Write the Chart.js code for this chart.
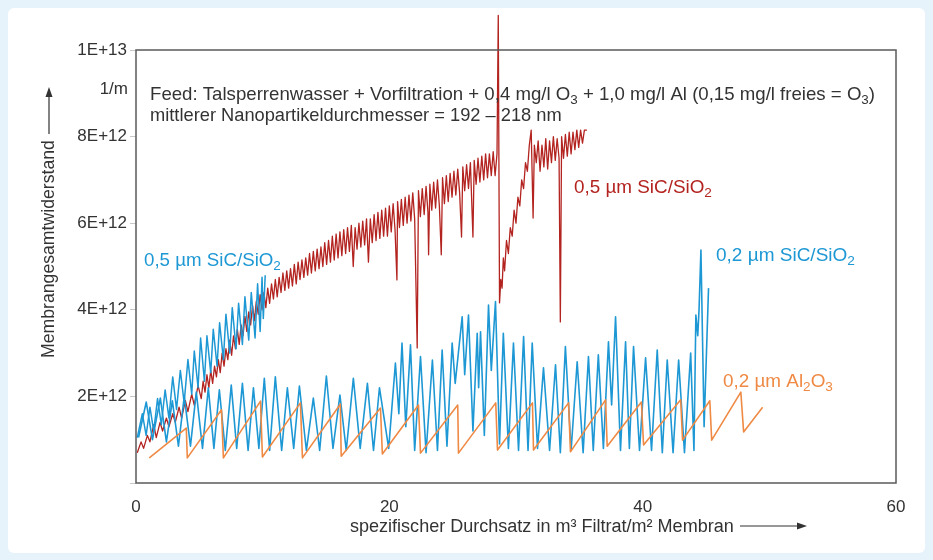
<!DOCTYPE html>
<html>
<head>
<meta charset="utf-8">
<script src="https://cdn.jsdelivr.net/npm/chart.js@4.4.1/dist/chart.umd.min.js"></script>
<style>
  body { margin: 0; background: #e6f3fa; }
  #card { position: absolute; left: 8px; top: 8px; width: 917px; height: 545px; background: #fff; border-radius: 6px; }
  #chart { position: absolute; left: 0; top: 0; }
</style>
</head>
<body>
<div id="card"></div>
<canvas id="chart" width="933" height="560"></canvas>
<script>
// Werte in 1E+12 1/m, x in m3/m2
const yTickLabels = ["", "2E+12", "4E+12", "6E+12", "8E+12", "1E+13"];
const xTickLabels = ["0", "20", "40", "60"];

// 0,5 µm SiC/SiO2 (rot)
const rot05 = [
  [0.1,0.7],[0.4,0.95],[0.6,0.8],[0.9,1.1],[1.1,0.95],[1.4,1.35],[1.6,1.05],[1.9,1.4],[2.1,1.2],[2.4,1.5],
  [2.6,1.3],[2.9,1.6],[3.1,1.4],[3.4,1.75],[3.6,1.5],[3.9,1.9],[4.1,1.65],[4.4,2.05],[4.6,1.8],[4.9,2.25],
  [5.15,1.95],[5.3,2.35],[5.45,2.1],[5.6,2.5],[5.75,2.2],[5.9,2.6],[6.05,2.3],[6.2,2.7],[6.35,2.45],[6.5,2.85],
  [6.65,2.55],[6.8,3.0],[6.95,2.7],[7.1,3.1],[7.25,2.85],[7.4,3.3],[7.55,2.95],[7.7,3.4],[7.85,3.1],[8.0,3.55],
  [8.15,3.2],[8.3,3.65],[8.45,3.4],[8.6,3.85],[8.75,3.5],[8.9,3.95],[9.05,3.65],[9.2,4.1],[9.35,3.75],[9.5,4.2],
  [9.65,3.9],[9.8,4.35],[9.95,4.0],[10.1,4.4],[10.25,4.05],[10.4,4.5],[10.55,4.15],[10.7,4.6],[10.85,4.25],[11.0,4.7],
  [11.15,4.3],[11.3,4.75],[11.45,4.4],[11.6,4.85],[11.75,4.45],[11.9,4.9],[12.05,4.5],[12.2,4.95],[12.35,4.55],[12.5,5.05],
  [12.65,4.6],[12.8,5.1],[12.95,4.7],[13.1,5.15],[13.25,4.75],[13.4,5.2],[13.55,4.8],[13.7,5.3],[13.85,4.85],[14.0,5.35],
  [14.15,4.9],[14.3,5.4],[14.45,4.95],[14.6,5.45],[14.75,5.0],[14.9,5.55],[15.05,5.05],[15.2,5.6],[15.35,5.1],[15.5,5.7],
  [15.65,5.15],[15.8,5.75],[15.95,5.2],[16.1,5.8],[16.25,5.25],[16.4,5.85],[16.55,5.3],[16.7,5.9],[16.85,5.35],[17.0,5.95],
  [17.15,5.0],[17.3,5.9],[17.45,5.4],[17.6,6.0],[17.75,5.45],[17.9,6.05],[18.05,5.5],[18.2,6.1],[18.35,5.1],[18.5,6.1],
  [18.65,5.55],[18.8,6.2],[18.95,5.6],[19.1,6.25],[19.25,5.65],[19.4,6.3],[19.55,5.7],[19.7,6.35],[19.85,5.7],[20.0,6.4],
  [20.15,5.8],[20.3,6.45],[20.45,5.85],[20.6,4.69],[20.65,6.5],[20.8,5.9],[20.95,6.55],[21.1,5.95],[21.25,6.6],[21.4,6.0],
  [21.55,6.65],[21.7,6.05],[21.85,6.7],[22.0,6.1],[22.2,3.12],[22.3,6.75],[22.45,6.15],[22.6,6.8],[22.75,6.2],[22.9,6.85],
  [23.05,6.25],[23.1,5.27],[23.2,6.9],[23.35,6.3],[23.5,6.95],[23.65,6.35],[23.8,7.0],[23.95,6.4],[24.1,5.27],[24.2,7.05],
  [24.35,6.45],[24.5,7.1],[24.65,6.5],[24.8,7.15],[24.95,6.6],[25.1,7.2],[25.25,6.65],[25.4,7.25],[25.55,6.7],[25.7,5.68],
  [25.8,7.3],[25.95,6.75],[26.1,7.35],[26.25,6.8],[26.4,7.4],[26.6,5.68],[26.7,7.45],[26.85,6.9],[27.0,7.5],[27.15,6.95],
  [27.3,7.55],[27.45,7.0],[27.6,7.6],[27.75,7.05],[27.9,7.6],[28.05,7.1],[28.2,7.65],[28.35,7.1],[28.5,7.6],[28.6,10.8],
  [28.7,4.16],[28.8,4.7],[28.9,4.5],[29.0,5.2],[29.1,4.9],[29.25,5.6],[29.4,5.3],[29.55,5.9],[29.7,5.7],[29.85,6.3],
  [30.0,6.0],[30.15,6.6],[30.3,6.4],[30.45,7.0],[30.6,6.8],[30.75,7.4],[30.9,7.2],[31.05,7.8],[31.2,8.15],[31.35,6.12],
  [31.45,7.8],[31.6,7.4],[31.75,7.9],[31.9,7.2],[32.05,7.8],[32.2,7.3],[32.35,7.95],[32.5,7.25],[32.65,7.9],[32.8,7.4],
  [32.95,8.0],[33.1,7.45],[33.25,7.95],[33.4,7.5],[33.5,3.72],[33.6,8.0],[33.75,7.5],[33.9,8.05],[34.05,7.55],[34.2,8.1],
  [34.35,7.6],[34.5,8.1],[34.65,7.7],[34.8,8.15],[34.95,7.75],[35.1,8.15],[35.25,7.85],[35.4,8.15],[35.6,8.15]
];

// 0,5 µm SiC/SiO2 (blau, steigend)
const blau05 = [
  [0.1,1.05],[0.5,1.6],[0.8,1.1],[1.1,1.75],[1.4,1.2],[1.7,1.95],[2.0,1.35],[2.3,2.15],[2.6,1.5],[2.9,2.45],
  [3.2,1.7],[3.5,2.6],[3.8,1.85],[4.1,2.85],[4.4,2.05],[4.6,3.05],[4.9,2.2],[5.1,3.35],[5.4,2.35],[5.6,3.4],
  [5.9,2.55],[6.1,3.55],[6.4,2.7],[6.6,3.7],[6.9,2.85],[7.1,3.9],[7.4,3.0],[7.6,4.05],[7.9,3.1],[8.1,4.15],
  [8.4,3.2],[8.6,4.3],[8.9,3.3],[9.1,4.4],[9.4,3.35],[9.6,4.6],[9.8,3.5],[9.95,4.75],[10.05,3.8],[10.2,4.8]
];

// 0,2 µm SiC/SiO2 (blau)
const blau02 = [
  [0.2,1.05],[0.81,1.87],[1.3,1.0],[1.92,1.96],[2.4,0.95],[2.87,1.9],[3.35,0.85],[3.81,2.0],[4.3,0.85],[4.76,2.1],
  [5.25,0.8],[5.71,2.2],[6.15,0.8],[6.58,2.15],[7.05,0.75],[7.52,2.26],[7.95,0.8],[8.4,2.3],[8.85,0.75],[9.27,2.2],
  [9.7,0.8],[10.13,2.42],[10.55,0.75],[11.0,2.45],[11.5,0.75],[11.95,2.2],[12.45,0.8],[12.9,2.24],[13.45,0.75],[14.0,1.96],
  [14.5,0.75],[15.03,2.47],[15.55,0.8],[16.1,2.03],[16.6,0.75],[17.16,2.42],[17.7,0.8],[18.27,2.3],[18.75,0.75],[19.22,2.2],
  [19.95,0.8],[20.48,2.77],[20.75,1.6],[21.0,3.23],[21.3,1.3],[21.67,3.19],[22.0,0.75],[22.46,2.92],[22.9,0.7],[23.4,2.84],
  [23.8,0.75],[24.17,3.07],[24.55,0.85],[24.96,3.23],[25.2,2.3],[25.75,3.84],[25.95,2.5],[26.25,3.88],[26.6,1.2],[26.94,3.46],
  [27.05,2.2],[27.2,3.49],[27.5,1.1],[27.83,4.11],[28.05,2.6],[28.38,4.19],[28.7,0.9],[29.0,3.46],[29.4,0.8],[29.8,3.23],
  [30.2,0.75],[30.6,3.38],[30.95,0.75],[31.28,3.23],[31.7,0.8],[32.17,2.66],[32.65,0.75],[33.12,2.73],[33.5,0.7],[33.9,3.15],
  [34.35,0.75],[34.83,2.8],[35.3,0.7],[35.72,2.92],[36.1,0.75],[36.5,2.96],[36.9,0.8],[37.3,3.26],[37.55,1.8],[37.86,3.84],
  [38.25,0.75],[38.65,3.26],[38.95,0.8],[39.28,3.15],[39.75,0.75],[40.23,2.89],[40.7,0.75],[41.15,3.07],[41.55,0.7],[41.94,2.84],
  [42.4,0.7],[42.84,2.84],[43.3,0.7],[43.79,3.0],[44.05,0.75],[44.2,3.88],[44.35,3.4],[44.45,4.0],[44.6,5.38],[44.85,1.3],
  [45.2,4.5]
];

// 0,2 µm Al2O3 (orange)
const orange02 = [
  [1.05,0.58],[3.97,1.27],[4.05,0.58],[6.75,1.69],[6.9,0.58],[9.83,1.89],[9.98,0.6],[12.98,1.85],[13.14,0.58],[16.13,1.82],
  [16.2,0.62],[19.3,1.73],[19.45,0.67],[22.3,1.8],[22.46,0.69],[25.4,1.8],[25.46,0.69],[28.4,1.85],[28.54,0.76],[31.3,1.85],
  [31.38,0.76],[34.15,1.85],[34.3,0.72],[37.07,1.92],[37.2,0.85],[39.9,1.87],[40.07,0.88],[43.0,1.92],[43.15,0.99],[45.3,1.9],
  [45.45,0.99],[47.75,2.1],[47.97,1.18],[49.47,1.75]
];

const FONT = "Liberation Sans, Arial, sans-serif";
const ROT = "#b3231f", BLAU = "#1e98d4", ORANGE = "#ef8a45", TXT = "#333";

function pkt(arr) { return arr.map(p => ({ x: p[0], y: p[1] })); }

// Text mit Tiefstellungen, auf Zielbreite gebracht
function richText(ctx, runs, x, y, color, width, rot) {
  const base = 16;
  let w = 0;
  runs.forEach(r => { ctx.font = (r[1] ? base * 0.72 : base) + "px " + FONT; w += ctx.measureText(r[0]).width; });
  const size = base * width / w;
  ctx.save();
  ctx.translate(x, y);
  if (rot) ctx.rotate(-Math.PI / 2);
  ctx.fillStyle = color;
  ctx.textBaseline = "middle";
  ctx.textAlign = "left";
  let cx = 0;
  runs.forEach(r => {
    const s = r[1] ? size * 0.72 : size;
    ctx.font = s + "px " + FONT;
    ctx.fillText(r[0], cx, r[1] ? size * 0.28 : 0);
    cx += ctx.measureText(r[0]).width;
  });
  ctx.restore();
}

const texte = {
  id: "texte",
  afterDraw(chart) {
    const ctx = chart.ctx, a = chart.chartArea;
    // Rahmen
    ctx.save();
    ctx.strokeStyle = "#5a5a5a";
    ctx.lineWidth = 1.5;
    ctx.strokeRect(a.left, a.top, a.right - a.left, a.bottom - a.top);
    ctx.restore();

    richText(ctx, [["Feed: Talsperrenwasser + Vorfiltration + 0,4 mg/l O", 0], ["3", 1], [" + 1,0 mg/l Al (0,15 mg/l freies = O", 0], ["3", 1], [")", 0]], 150, 95, TXT, 726);
    richText(ctx, [["mittlerer Nanopartikeldurchmesser = 192 \u2013 218 nm", 0]], 150, 116, TXT, 412);

    richText(ctx, [["0,5 \u00b5m SiC/SiO", 0], ["2", 1]], 144, 261, BLAU, 137);
    richText(ctx, [["0,5 \u00b5m SiC/SiO", 0], ["2", 1]], 574, 188, ROT, 138);
    richText(ctx, [["0,2 \u00b5m SiC/SiO", 0], ["2", 1]], 716, 256, BLAU, 139);
    richText(ctx, [["0,2 \u00b5m Al", 0], ["2", 1], ["O", 0], ["3", 1]], 723, 382, ORANGE, 110);

    // Achsentitel
    richText(ctx, [["spezifischer Durchsatz in m\u00b3 Filtrat/m\u00b2 Membran", 0]], 350, 527, TXT, 384);
    richText(ctx, [["Membrangesamtwiderstand", 0]], 49, 358, TXT, 218, true);

    ctx.save();
    ctx.font = "17px " + FONT;
    ctx.fillStyle = TXT;
    ctx.textAlign = "right";
    ctx.textBaseline = "middle";
    ctx.fillText("1/m", 128, 89);
    // Pfeile
    ctx.strokeStyle = TXT;
    ctx.lineWidth = 1.2;
    ctx.beginPath();
    ctx.moveTo(740, 526); ctx.lineTo(800, 526);
    ctx.moveTo(49, 134); ctx.lineTo(49, 94);
    ctx.stroke();
    ctx.beginPath();
    ctx.moveTo(807, 526); ctx.lineTo(797, 522.5); ctx.lineTo(797, 529.5); ctx.closePath();
    ctx.moveTo(49, 87); ctx.lineTo(45.5, 97); ctx.lineTo(52.5, 97); ctx.closePath();
    ctx.fill();
    ctx.restore();
  }
};

new Chart(document.getElementById("chart"), {
  type: "line",
  data: {
    datasets: [
      { label: "0,2 µm Al2O3", data: pkt(orange02), borderColor: ORANGE, borderWidth: 1.6 },
      { label: "0,2 µm SiC/SiO2", data: pkt(blau02), borderColor: BLAU, borderWidth: 1.6 },
      { label: "0,5 µm SiC/SiO2 blau", data: pkt(blau05), borderColor: BLAU, borderWidth: 1.5 },
      { label: "0,5 µm SiC/SiO2 rot", data: pkt(rot05), borderColor: ROT, borderWidth: 1.3, clip: false }
    ]
  },
  options: {
    responsive: false,
    animation: false,
    layout: { padding: { top: 50, right: 37, left: 0, bottom: 0 } },
    elements: { point: { radius: 0 }, line: { tension: 0, borderJoinStyle: "round" } },
    plugins: { legend: { display: false }, tooltip: { enabled: false } },
    scales: {
      x: {
        type: "linear", min: 0, max: 60,
        afterFit: s => { s.height = 77; },
        ticks: { stepSize: 20, padding: 6, color: TXT, font: { family: FONT, size: 17 },
          callback: v => xTickLabels[v / 20] },
        grid: { display: false },
        border: { display: false }
      },
      y: {
        min: 0, max: 10,
        afterFit: s => { s.width = 136; },
        ticks: { stepSize: 2, padding: 3, color: TXT, font: { family: FONT, size: 17 },
          callback: v => yTickLabels[v / 2] },
        grid: { drawOnChartArea: false, tickLength: 6, color: "#c8c8c8" },
        border: { display: false }
      }
    }
  },
  plugins: [texte]
});
</script>
</body>
</html>
